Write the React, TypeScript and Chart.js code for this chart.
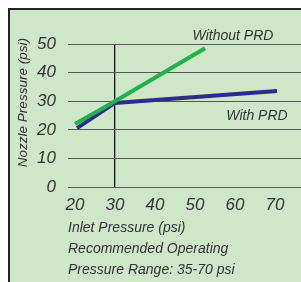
import React, { useEffect, useRef } from "react";
import { Chart, registerables } from "chart.js";

Chart.register(...registerables);

const xTickValues = [20, 30, 40, 50, 60, 70];
const withoutPrdX = [20, 30, 52.5];
const withoutPrdY = [22, 30, 48.5];
const withPrdX = [20.5, 30, 70.5];
const withPrdY = [20.6, 29.4, 33.6];
const seriesNames = ["Without PRD", "With PRD"];
const xTitleLines = ["Inlet Pressure (psi)", "Recommended Operating", "Pressure Range: 35-70 psi"];
const yTitle = "Nozzle Pressure (psi)";

const FONT = "'Liberation Sans', Arial, Helvetica, sans-serif";
const TEXT = "#333333";

const labelPlugin = {
  id: "labels",
  afterDraw(chart: any) {
    const { ctx, scales } = chart;
    const xs = scales.x;
    const ys = scales.y;
    ctx.save();
    ctx.fillStyle = TEXT;
    ctx.font = `italic 14px ${FONT}`;
    ctx.textAlign = "center";
    ctx.textBaseline = "middle";
    ctx.fillText(seriesNames[0], xs.getPixelForValue(59.5), ys.getPixelForValue(52.8));
    ctx.fillText(seriesNames[1], xs.getPixelForValue(65.5), ys.getPixelForValue(24.8));
    // y axis title
    ctx.translate(ys.left + 13, ys.getPixelForValue(29.5));
    ctx.rotate(-Math.PI / 2);
    ctx.font = `italic 13.5px ${FONT}`;
    ctx.fillText(yTitle, 0, 0);
    ctx.restore();
  },
};

export default function App() {
  const ref = useRef<HTMLCanvasElement>(null);
  useEffect(() => {
    document.documentElement.style.overflow = "hidden";
    if (!ref.current) return;
    const chart = new Chart(ref.current, {
      type: "line",
      data: {
        datasets: [
          {
            label: seriesNames[0],
            data: withoutPrdX.map((x, i) => ({ x, y: withoutPrdY[i] })),
            borderColor: "#22b24c",
            borderWidth: 4,
            pointRadius: 0,
            tension: 0,
          },
          {
            label: seriesNames[1],
            data: withPrdX.map((x, i) => ({ x, y: withPrdY[i] })),
            borderColor: "#2b2d8e",
            borderWidth: 4,
            pointRadius: 0,
            tension: 0,
          },
        ],
      },
      options: {
        responsive: false,
        animation: false,
        devicePixelRatio: 1,
        layout: { padding: { top: 34, left: 0, right: 0, bottom: 0 } },
        plugins: { legend: { display: false }, tooltip: { enabled: false } },
        scales: {
          x: {
            type: "linear",
            min: 18.25,
            max: 76.5,
            afterBuildTicks: (scale: any) => {
              scale.ticks = xTickValues.map((v) => ({ value: v }));
            },
            afterFit: (scale: any) => {
              scale.height = 95;
            },
            border: { display: false },
            grid: {
              drawTicks: false,
              color: (c: any) => (c.tick && c.tick.value === 30 ? "#111111" : "rgba(0,0,0,0)"),
              lineWidth: 1.3,
            },
            ticks: {
              padding: 8,
              color: TEXT,
              font: { family: FONT, size: 17, style: "italic" },
              maxRotation: 0,
              autoSkip: false,
            },
            title: {
              display: true,
              text: xTitleLines,
              align: "start",
              color: TEXT,
              font: { family: FONT, size: 14, style: "italic", lineHeight: "21px" },
              padding: { top: 0, bottom: 1.5 },
            },
          },
          y: {
            min: 0,
            max: 50,
            afterFit: (scale: any) => {
              scale.width = 58;
            },
            border: { display: false },
            grid: { drawTicks: false, color: "#555555", lineWidth: 1 },
            ticks: {
              stepSize: 10,
              padding: 12,
              color: TEXT,
              font: { family: FONT, size: 17, style: "italic" },
            },
          },
        },
      },
      plugins: [labelPlugin],
    } as any);
    return () => chart.destroy();
  }, []);
  return (
    <div
      style={{
        position: "fixed",
        left: 8,
        top: 8,
        width: 330,
        height: 310,
        boxSizing: "border-box",
        borderTop: "2px solid #222",
        borderLeft: "2px solid #222",
        background: "#cee7c9",
        overflow: "hidden",
      }}
    >
      <canvas ref={ref} width={291} height={272} style={{ display: "block" }} />
    </div>
  );
}
